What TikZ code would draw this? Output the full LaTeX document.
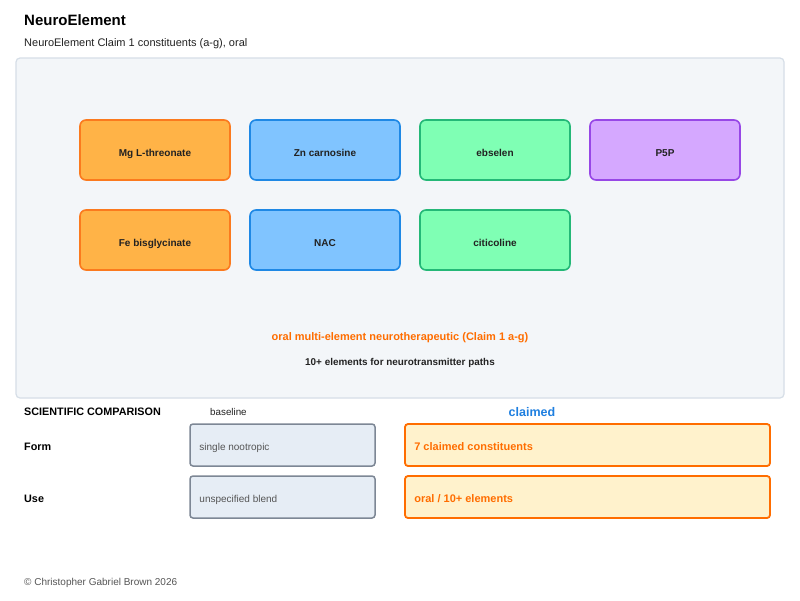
\documentclass[tikz,border=0pt]{standalone}
\usepackage{fontspec}
\setmainfont{Liberation Sans}
\begin{document}
\begin{tikzpicture}[x=1pt,y=-1pt,
  txt/.style={inner sep=0pt, text height=7pt, text depth=0pt},
  elem/.style={draw, line width=1.6pt, rounded corners=6pt, minimum width=150pt, minimum height=60pt, font=\fontsize{10}{12}\selectfont\bfseries, text=textdark, inner sep=0pt, text height=12pt, text depth=0pt},
  orangebox/.style={elem, fill=orfill, draw=orline},
  bluebox/.style={elem, fill=blfill, draw=blline},
  greenbox/.style={elem, fill=grfill, draw=grline},
  purplebox/.style={elem, fill=pufill, draw=puline},
  basebox/.style={draw=baseline, fill=basefill, line width=1.5pt, rounded corners=3pt, minimum width=185pt, minimum height=42pt, inner sep=0pt},
  claimbox/.style={draw=claimline, fill=claimfill, line width=1.8pt, rounded corners=3pt, minimum width=365pt, minimum height=42pt, inner sep=0pt},
  lbl/.style={anchor=west, txt},
]
\definecolor{textdark}{HTML}{222222}
\definecolor{orfill}{HTML}{FFB347}
\definecolor{orline}{HTML}{FB7A1E}
\definecolor{blfill}{HTML}{80C4FF}
\definecolor{blline}{HTML}{1E88E5}
\definecolor{grfill}{HTML}{7FFFB4}
\definecolor{grline}{HTML}{24B877}
\definecolor{pufill}{HTML}{D5A8FF}
\definecolor{puline}{HTML}{9747E6}
\definecolor{panelfill}{HTML}{F3F6F9}
\definecolor{panelline}{HTML}{D6DEE7}
\definecolor{baseline}{HTML}{7D8795}
\definecolor{basefill}{HTML}{E6EDF5}
\definecolor{claimline}{HTML}{FF6D00}
\definecolor{claimfill}{HTML}{FFF2CC}
\definecolor{accent}{HTML}{FF6D00}
\definecolor{blueacc}{HTML}{1E7FE0}
\definecolor{grayt}{HTML}{555555}

\useasboundingbox[fill=white] (0,0) rectangle (800,600);

\node[lbl, font=\fontsize{15}{17}\selectfont\bfseries] (title) at (24,22) {NeuroElement};
\node[lbl, font=\fontsize{11}{13}\selectfont, text=textdark] (sub) at (24,43) {NeuroElement Claim 1 constituents (a-g), oral};

\draw[draw=panelline, fill=panelfill, line width=1.2pt, rounded corners=4pt] (16,58) rectangle (784,398);

\node[orangebox] (mg) at (155,150) {Mg L-threonate};
\node[bluebox] (zn) at (325,150) {Zn carnosine};
\node[greenbox] (eb) at (495,150) {ebselen};
\node[purplebox] (p5p) at (665,150) {P5P};
\node[orangebox] (fe) at (155,240) {Fe bisglycinate};
\node[bluebox] (nac) at (325,240) {NAC};
\node[greenbox] (cit) at (495,240) {citicoline};

\node[txt, font=\fontsize{11}{13}\selectfont\bfseries, text=accent] (claim) at (400,337) {oral multi-element neurotherapeutic (Claim 1 a-g)};
\node[txt, font=\fontsize{9.9}{12}\selectfont\bfseries, text=textdark] (ten) at (400,362) {10+ elements for neurotransmitter paths};

\node[lbl, font=\fontsize{10.8}{12}\selectfont\bfseries, text=black] (sci) at (24,411.5) {SCIENTIFIC COMPARISON};
\node[lbl, font=\fontsize{9.8}{11}\selectfont, text=textdark] (bl) at (210,411.5) {baseline};
\node[txt, font=\fontsize{12.5}{14}\selectfont\bfseries, text=blueacc] (cl) at (532,413) {claimed};

\node[lbl, font=\fontsize{10.8}{12}\selectfont\bfseries, text=black] (form) at (24,446.5) {Form};
\node[lbl, font=\fontsize{10.8}{12}\selectfont\bfseries, text=black] (use) at (24,498.5) {Use};

\node[basebox] (b1) at (282.5,445) {};
\node[basebox] (b2) at (282.5,497) {};
\node[lbl, font=\fontsize{10}{12}\selectfont, text=grayt] (b1t) at ([xshift=10pt,yshift=-1.5pt]b1.west) {single nootropic};
\node[lbl, font=\fontsize{10}{12}\selectfont, text=grayt] (b2t) at ([xshift=10pt,yshift=-1.5pt]b2.west) {unspecified blend};

\node[claimbox] (c1) at (587.5,445) {};
\node[claimbox] (c2) at (587.5,497) {};
\node[lbl, font=\fontsize{11}{13}\selectfont\bfseries, text=accent] (c1t) at ([xshift=10pt,yshift=-1.5pt]c1.west) {7 claimed constituents};
\node[lbl, font=\fontsize{11}{13}\selectfont\bfseries, text=accent] (c2t) at ([xshift=10pt,yshift=-1.5pt]c2.west) {oral / 10+ elements};

\node[lbl, font=\fontsize{10}{12}\selectfont, text=grayt] (foot) at (24,581.5) {© Christopher Gabriel Brown 2026};
\end{tikzpicture}
\end{document}
